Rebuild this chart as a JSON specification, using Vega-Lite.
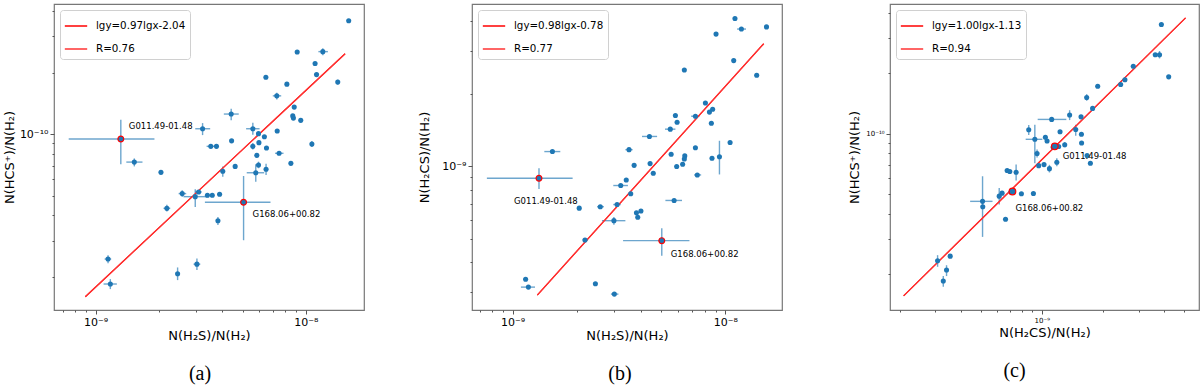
{
  "$schema": "https://vega.github.io/schema/vega-lite/v6.json",
  "padding": {"left": 2, "top": 3, "right": 0, "bottom": 0},
  "background": "white",
  "bounds": "flush",
  "spacing": 108,
  "resolve": {"scale": {"color": "independent"}, "legend": {"color": "independent"}},
  "config": {
    "font": "DejaVu Sans",
    "view": {"stroke": "#777777", "strokeWidth": 1.2},
    "axis": {"grid": false, "domain": false, "tickColor": "#555555", "tickWidth": 1, "labelColor": "#000000", "labelFont": "DejaVu Sans", "labelFontSize": 11, "labelPadding": 2, "labelFlush": false, "labelOverlap": false, "titleFont": "DejaVu Sans", "titleFontSize": 13, "titleFontWeight": "normal", "titleColor": "#000000"},
    "legend": {"orient": "top-left", "offset": 6, "symbolType": "stroke", "symbolSize": 500, "symbolStrokeWidth": 1.5, "labelFont": "DejaVu Sans", "labelFontSize": 10.3, "labelColor": "#000000", "strokeColor": "#d0d0d0", "fillColor": "#ffffff", "padding": 4, "cornerRadius": 3, "rowPadding": 5, "labelOffset": 8},
    "title": {"font": "Liberation Serif", "fontSize": 20, "fontWeight": "normal", "color": "#000000", "orient": "bottom", "frame": "group", "anchor": "middle"}
  },
  "datasets": {
    "a": [
      {"x": 1.60e-8, "y": 3.58e-10},
      {"x": 9.10e-9, "y": 2.52e-10},
      {"x": 1.205e-8, "y": 2.53e-10, "xlo": 1.148e-8, "xhi": 1.274e-8, "ylo": 2.427e-10, "yhi": 2.63e-10},
      {"x": 1.107e-8, "y": 2.213e-10},
      {"x": 1.125e-8, "y": 1.954e-10},
      {"x": 6.457e-9, "y": 1.897e-10},
      {"x": 8.128e-9, "y": 1.754e-10},
      {"x": 1.419e-8, "y": 1.795e-10, "ylo": 1.746e-10, "yhi": 1.841e-10},
      {"x": 7.278e-9, "y": 1.538e-10, "xlo": 6.966e-9, "xhi": 7.638e-9, "ylo": 1.476e-10, "yhi": 1.592e-10},
      {"x": 8.81e-9, "y": 1.355e-10},
      {"x": 4.416e-9, "y": 1.253e-10, "xlo": 4.074e-9, "xhi": 4.797e-9, "ylo": 1.169e-10, "yhi": 1.33e-10},
      {"x": 8.67e-9, "y": 1.227e-10},
      {"x": 8.73e-9, "y": 1.197e-10},
      {"x": 9.462e-9, "y": 1.167e-10},
      {"x": 5.598e-9, "y": 1.062e-10, "xlo": 5.2e-9, "xhi": 6.026e-9, "ylo": 9.93e-11, "yhi": 1.135e-10},
      {"x": 3.228e-9, "y": 1.062e-10, "xlo": 2.979e-9, "xhi": 3.508e-9, "ylo": 9.886e-11, "yhi": 1.132e-10},
      {"x": 7.311e-9, "y": 1.035e-10},
      {"x": 5.957e-9, "y": 1.005e-10},
      {"x": 1.318e-9, "y": 9.462e-11, "xlo": 7.447e-10, "xhi": 1.905e-9, "ylo": 7.112e-11, "yhi": 1.175e-10, "name": "G011.49-01.48"},
      {"x": 4.436e-9, "y": 9.268e-11},
      {"x": 6.353e-9, "y": 9.705e-11},
      {"x": 5.598e-9, "y": 8.71e-11, "ylo": 8.395e-11, "yhi": 9.036e-11},
      {"x": 3.532e-9, "y": 8.71e-11, "xlo": 3.373e-9, "xhi": 3.707e-9},
      {"x": 3.758e-9, "y": 8.71e-11},
      {"x": 5.984e-9, "y": 9.078e-11},
      {"x": 6.501e-9, "y": 8.551e-11},
      {"x": 1.069e-8, "y": 8.933e-11, "ylo": 8.65e-11, "yhi": 9.247e-11},
      {"x": 5.848e-9, "y": 7.87e-11},
      {"x": 7.464e-9, "y": 8.054e-11, "xlo": 7.145e-9, "xhi": 7.834e-9},
      {"x": 1.528e-9, "y": 7.295e-11, "xlo": 1.4e-9, "xhi": 1.671e-9, "ylo": 6.95e-11, "yhi": 7.603e-11},
      {"x": 5.957e-9, "y": 7.063e-11, "ylo": 6.808e-11, "yhi": 7.328e-11},
      {"x": 4.613e-9, "y": 6.95e-11},
      {"x": 8.492e-9, "y": 7.194e-11},
      {"x": 4.027e-9, "y": 6.577e-11, "ylo": 6.194e-11, "yhi": 6.934e-11},
      {"x": 6.471e-9, "y": 6.73e-11, "ylo": 6.31e-11, "yhi": 7.161e-11},
      {"x": 5.781e-9, "y": 6.471e-11, "xlo": 5.236e-9, "xhi": 6.339e-9, "ylo": 5.848e-11, "yhi": 7.112e-11},
      {"x": 2.046e-9, "y": 6.501e-11},
      {"x": 2.582e-9, "y": 5.117e-11, "xlo": 2.483e-9, "xhi": 2.698e-9, "ylo": 4.932e-11, "yhi": 5.309e-11},
      {"x": 3.09e-9, "y": 5.212e-11, "xlo": 2.979e-9, "xhi": 3.199e-9},
      {"x": 2.979e-9, "y": 4.943e-11, "xlo": 2.618e-9, "xhi": 3.443e-9, "ylo": 4.406e-11, "yhi": 5.37e-11},
      {"x": 3.404e-9, "y": 5.023e-11},
      {"x": 3.589e-9, "y": 5.023e-11},
      {"x": 3.89e-9, "y": 5.082e-11},
      {"x": 5.058e-9, "y": 4.645e-11, "xlo": 3.311e-9, "xhi": 6.792e-9, "ylo": 3.027e-11, "yhi": 6.237e-11, "name": "G168.06+00.82"},
      {"x": 2.183e-9, "y": 4.335e-11, "xlo": 2.104e-9, "xhi": 2.265e-9, "ylo": 4.178e-11, "yhi": 4.508e-11},
      {"x": 3.819e-9, "y": 3.767e-11, "ylo": 3.597e-11, "yhi": 3.936e-11},
      {"x": 1.146e-9, "y": 2.449e-11, "xlo": 1.104e-9, "xhi": 1.186e-9, "ylo": 2.339e-11, "yhi": 2.559e-11},
      {"x": 3.034e-9, "y": 2.312e-11, "xlo": 2.924e-9, "xhi": 3.148e-9, "ylo": 2.163e-11, "yhi": 2.466e-11},
      {"x": 2.455e-9, "y": 2.075e-11, "ylo": 1.932e-11, "yhi": 2.228e-11},
      {"x": 1.175e-9, "y": 1.849e-11, "xlo": 1.091e-9, "xhi": 1.262e-9, "ylo": 1.746e-11, "yhi": 1.954e-11}
    ],
    "b": [
      {"x": 1.109e-8, "y": 4.111e-9},
      {"x": 1.56e-8, "y": 3.793e-9},
      {"x": 1.189e-8, "y": 3.715e-9, "xlo": 1.135e-8, "xhi": 1.25e-8},
      {"x": 9.036e-9, "y": 3.54e-9},
      {"x": 1.094e-8, "y": 2.748e-9},
      {"x": 6.412e-9, "y": 2.512e-9},
      {"x": 1.403e-8, "y": 2.388e-9},
      {"x": 8.054e-9, "y": 1.832e-9},
      {"x": 8.414e-9, "y": 1.679e-9},
      {"x": 8.71e-9, "y": 1.726e-9},
      {"x": 5.821e-9, "y": 1.626e-9},
      {"x": 7.228e-9, "y": 1.614e-9, "xlo": 6.902e-9, "xhi": 7.551e-9},
      {"x": 5.929e-9, "y": 1.524e-9},
      {"x": 8.59e-9, "y": 1.51e-9},
      {"x": 5.508e-9, "y": 1.426e-9, "xlo": 5.2e-9, "xhi": 5.821e-9},
      {"x": 4.395e-9, "y": 1.33e-9, "xlo": 4.055e-9, "xhi": 4.775e-9},
      {"x": 1.052e-8, "y": 1.256e-9},
      {"x": 1.538e-9, "y": 1.151e-9, "xlo": 1.409e-9, "xhi": 1.675e-9},
      {"x": 3.524e-9, "y": 1.172e-9, "xlo": 3.388e-9, "xhi": 3.664e-9},
      {"x": 7.228e-9, "y": 1.194e-9},
      {"x": 5.559e-9, "y": 1.122e-9},
      {"x": 6.442e-9, "y": 1.104e-9},
      {"x": 6.412e-9, "y": 1.072e-9},
      {"x": 9.376e-9, "y": 1.096e-9, "ylo": 9.247e-10, "yhi": 1.276e-9},
      {"x": 8.65e-9, "y": 1.079e-9},
      {"x": 6.295e-9, "y": 1.019e-9},
      {"x": 3.724e-9, "y": 1.009e-9},
      {"x": 4.426e-9, "y": 1.026e-9},
      {"x": 5.902e-9, "y": 9.977e-10},
      {"x": 4.581e-9, "y": 9.354e-10},
      {"x": 7.379e-9, "y": 9.204e-10, "xlo": 7.129e-9, "xhi": 7.691e-9},
      {"x": 1.33e-9, "y": 8.913e-10, "xlo": 7.568e-10, "xhi": 1.914e-9, "ylo": 8.054e-10, "yhi": 9.817e-10, "name": "G011.49-01.48"},
      {"x": 3.42e-9, "y": 8.77e-10},
      {"x": 3.221e-9, "y": 8.318e-10, "xlo": 2.972e-9, "xhi": 3.483e-9},
      {"x": 3.589e-9, "y": 7.691e-10},
      {"x": 5.741e-9, "y": 7.211e-10, "xlo": 5.224e-9, "xhi": 6.252e-9},
      {"x": 2.056e-9, "y": 6.699e-10},
      {"x": 2.582e-9, "y": 6.792e-10, "xlo": 2.495e-9, "xhi": 2.685e-9},
      {"x": 3.097e-9, "y": 6.934e-10, "xlo": 2.972e-9, "xhi": 3.221e-9},
      {"x": 3.819e-9, "y": 6.412e-10},
      {"x": 4.009e-9, "y": 6.516e-10},
      {"x": 3.873e-9, "y": 6.138e-10},
      {"x": 2.992e-9, "y": 5.943e-10, "xlo": 2.63e-9, "xhi": 3.388e-9, "ylo": 5.715e-10, "yhi": 6.152e-10},
      {"x": 2.188e-9, "y": 4.943e-10, "xlo": 2.133e-9, "xhi": 2.254e-9},
      {"x": 5.023e-9, "y": 4.909e-10, "xlo": 3.304e-9, "xhi": 6.776e-9, "ylo": 4.246e-10, "yhi": 5.534e-10, "name": "G168.06+00.82"},
      {"x": 1.151e-9, "y": 3.396e-10, "xlo": 1.122e-9, "xhi": 1.18e-9},
      {"x": 1.186e-9, "y": 3.148e-10, "xlo": 1.094e-9, "xhi": 1.274e-9},
      {"x": 2.449e-9, "y": 3.251e-10},
      {"x": 3.006e-9, "y": 2.944e-10, "xlo": 2.897e-9, "xhi": 3.141e-9}
    ],
    "c": [
      {"x": 3.873e-9, "y": 3.499e-10},
      {"x": 3.614e-9, "y": 2.472e-10},
      {"x": 3.793e-9, "y": 2.472e-10, "ylo": 2.371e-10, "yhi": 2.582e-10},
      {"x": 2.818e-9, "y": 2.168e-10},
      {"x": 4.207e-9, "y": 1.919e-10},
      {"x": 2.564e-9, "y": 1.858e-10},
      {"x": 2.443e-9, "y": 1.758e-10},
      {"x": 1.884e-9, "y": 1.722e-10},
      {"x": 1.663e-9, "y": 1.514e-10, "ylo": 1.459e-10, "yhi": 1.574e-10},
      {"x": 1.778e-9, "y": 1.337e-10},
      {"x": 1.371e-9, "y": 1.239e-10, "ylo": 1.169e-10, "yhi": 1.309e-10},
      {"x": 1.56e-9, "y": 1.213e-10},
      {"x": 1.119e-9, "y": 1.178e-10, "xlo": 9.55e-10, "xhi": 1.321e-9},
      {"x": 1.469e-9, "y": 1.05e-10, "ylo": 9.772e-11, "yhi": 1.109e-10},
      {"x": 1.23e-9, "y": 1.023e-10},
      {"x": 8.63e-10, "y": 1.047e-10, "ylo": 9.84e-11, "yhi": 1.104e-10},
      {"x": 1.567e-9, "y": 9.931e-11},
      {"x": 1.042e-9, "y": 9.594e-11},
      {"x": 9.247e-10, "y": 9.376e-11, "xlo": 8.337e-10, "xhi": 1.007e-9, "ylo": 7.129e-11, "yhi": 1.109e-10},
      {"x": 1.062e-9, "y": 9.204e-11},
      {"x": 1.57e-9, "y": 8.995e-11},
      {"x": 1.297e-9, "y": 8.81e-11, "ylo": 8.551e-11, "yhi": 9.099e-11},
      {"x": 1.138e-9, "y": 8.551e-11},
      {"x": 1.211e-9, "y": 8.63e-11},
      {"x": 1.159e-9, "y": 8.65e-11, "name": "G011.49-01.48"},
      {"x": 9.484e-10, "y": 7.962e-11, "ylo": 7.603e-11, "yhi": 8.337e-11},
      {"x": 1.671e-9, "y": 7.78e-11},
      {"x": 1.734e-9, "y": 7.129e-11},
      {"x": 1.186e-9, "y": 7.211e-11, "ylo": 6.887e-11, "yhi": 7.551e-11},
      {"x": 1.026e-9, "y": 7.015e-11},
      {"x": 9.661e-10, "y": 6.934e-11},
      {"x": 1.091e-9, "y": 6.699e-11, "ylo": 6.412e-11, "yhi": 6.998e-11},
      {"x": 6.761e-10, "y": 6.561e-11},
      {"x": 6.966e-10, "y": 6.486e-11},
      {"x": 7.482e-10, "y": 6.427e-11, "ylo": 5.848e-11, "yhi": 7.015e-11},
      {"x": 7.943e-10, "y": 5.023e-11},
      {"x": 9.099e-10, "y": 5.035e-11},
      {"x": 6.383e-10, "y": 5.058e-11},
      {"x": 6.18e-10, "y": 4.887e-11, "ylo": 4.446e-11, "yhi": 5.358e-11},
      {"x": 7.063e-10, "y": 5.117e-11},
      {"x": 7.178e-10, "y": 5.152e-11, "name": "G168.06+00.82"},
      {"x": 5.117e-10, "y": 4.603e-11, "xlo": 4.446e-10, "xhi": 5.728e-10, "ylo": 3.062e-11, "yhi": 6.138e-11},
      {"x": 5.129e-10, "y": 4.325e-11},
      {"x": 6.637e-10, "y": 3.75e-11},
      {"x": 3.548e-10, "y": 2.455e-11},
      {"x": 3.076e-10, "y": 2.328e-11, "ylo": 2.173e-11, "yhi": 2.483e-11},
      {"x": 3.404e-10, "y": 2.094e-11, "ylo": 1.954e-11, "yhi": 2.213e-11},
      {"x": 3.281e-10, "y": 1.845e-11, "ylo": 1.73e-11, "yhi": 1.954e-11}
    ],
    "fitA": [
      {"x": 8.933e-10, "y": 1.603e-11, "label": "lgy=0.97lgx-2.04"},
      {"x": 1.538e-8, "y": 2.472e-10, "label": "lgy=0.97lgx-2.04"},
      {"x": 8.933e-10, "y": 1.603e-11, "label": "R=0.76"},
      {"x": 1.538e-8, "y": 2.472e-10, "label": "R=0.76"}
    ],
    "fitB": [
      {"x": 1.306e-9, "y": 2.917e-10, "label": "lgy=0.98lgx-0.78"},
      {"x": 1.514e-8, "y": 3.228e-9, "label": "lgy=0.98lgx-0.78"},
      {"x": 1.306e-9, "y": 2.917e-10, "label": "R=0.77"},
      {"x": 1.514e-8, "y": 3.228e-9, "label": "R=0.77"}
    ],
    "fitC": [
      {"x": 2.094e-10, "y": 1.556e-11, "label": "lgy=1.00lgx-1.13"},
      {"x": 5.093e-9, "y": 3.776e-10, "label": "lgy=1.00lgx-1.13"},
      {"x": 2.094e-10, "y": 1.556e-11, "label": "R=0.94"},
      {"x": 5.093e-9, "y": 3.776e-10, "label": "R=0.94"}
    ]
  },
  "hconcat": [
    {
      "width": 310, "height": 306,
      "title": {"text": "(a)", "offset": 22, "dx": -9},
      "layer": [
        {
          "data": {"name": "a"},
          "transform": [{"filter": "isValid(datum.xlo)"}],
          "mark": {"type": "rule", "color": "#1f77b4", "opacity": 0.65, "strokeWidth": 1.4},
          "encoding": {
            "x": {"field": "xlo", "type": "quantitative", "scale": {"type": "log", "domain": [6.339e-10, 1.892e-8], "nice": false},
              "axis": {"title": "N(H₂S)/N(H₂)", "titlePadding": 2, "values": [7e-10, 8e-10, 9e-10, 1e-9, 2e-9, 3e-9, 4e-9, 5e-9, 6e-9, 7e-9, 8e-9, 9e-9, 1e-8],
                "labelExpr": "abs(log(datum.value)/LN10 - round(log(datum.value)/LN10)) < 0.01 ? (round(log(datum.value)/LN10) == -9 ? '10⁻⁹' : '10⁻⁸') : ''",
                "tickSize": {"condition": {"test": "abs(log(datum.value)/LN10 - round(log(datum.value)/LN10)) < 0.01", "value": 4}, "value": 2}}},
            "x2": {"field": "xhi"},
            "y": {"field": "y", "type": "quantitative", "scale": {"type": "log", "domain": [1.38e-11, 4.325e-10], "nice": false},
              "axis": {"title": "N(HCS⁺)/N(H₂)", "titlePadding": 3, "values": [2e-11, 3e-11, 4e-11, 5e-11, 6e-11, 7e-11, 8e-11, 9e-11, 1e-10, 2e-10, 3e-10, 4e-10],
                "labelExpr": "abs(log(datum.value)/LN10 - round(log(datum.value)/LN10)) < 0.01 ? '10⁻¹⁰' : ''",
                "tickSize": {"condition": {"test": "abs(log(datum.value)/LN10 - round(log(datum.value)/LN10)) < 0.01", "value": 4}, "value": 2}}}
          }
        },
        {
          "data": {"name": "a"},
          "transform": [{"filter": "isValid(datum.ylo)"}],
          "mark": {"type": "rule", "color": "#1f77b4", "opacity": 0.65, "strokeWidth": 1.4},
          "encoding": {
            "x": {"field": "x", "type": "quantitative", "scale": {"type": "log", "domain": [6.339e-10, 1.892e-8], "nice": false}},
            "y": {"field": "ylo", "type": "quantitative", "scale": {"type": "log", "domain": [1.38e-11, 4.325e-10], "nice": false}},
            "y2": {"field": "yhi"}
          }
        },
        {
          "data": {"name": "fitA"},
          "mark": {"type": "line", "strokeWidth": 1.2},
          "encoding": {
            "x": {"field": "x", "type": "quantitative", "scale": {"type": "log", "domain": [6.339e-10, 1.892e-8], "nice": false}},
            "y": {"field": "y", "type": "quantitative", "scale": {"type": "log", "domain": [1.38e-11, 4.325e-10], "nice": false}},
            "color": {"field": "label", "type": "nominal", "scale": {"domain": ["lgy=0.97lgx-2.04", "R=0.76"], "range": ["#ff0000", "#ff3333"]}, "legend": {"title": null}}
          }
        },
        {
          "data": {"name": "a"},
          "mark": {"type": "circle", "opacity": 1},
          "encoding": {
            "x": {"field": "x", "type": "quantitative", "scale": {"type": "log", "domain": [6.339e-10, 1.892e-8], "nice": false}},
            "y": {"field": "y", "type": "quantitative", "scale": {"type": "log", "domain": [1.38e-11, 4.325e-10], "nice": false}},
            "size": {"condition": {"test": "isValid(datum.name)", "value": 34}, "value": 26},
            "fill": {"value": "#1f77b4"},
            "stroke": {"condition": {"test": "isValid(datum.name)", "value": "#ff0000"}, "value": "#1f77b4"},
            "strokeWidth": {"condition": {"test": "isValid(datum.name)", "value": 1.2}, "value": 0}
          }
        },
        {
          "data": {"name": "a"},
          "transform": [{"filter": "datum.name === 'G011.49-01.48'"}],
          "mark": {"type": "text", "align": "left", "baseline": "middle", "fontSize": 8.5, "font": "DejaVu Sans", "color": "#000000", "dx": 8, "dy": -13},
          "encoding": {
            "x": {"field": "x", "type": "quantitative", "scale": {"type": "log", "domain": [6.339e-10, 1.892e-8], "nice": false}},
            "y": {"field": "y", "type": "quantitative", "scale": {"type": "log", "domain": [1.38e-11, 4.325e-10], "nice": false}},
            "text": {"field": "name"}
          }
        },
        {
          "data": {"name": "a"},
          "transform": [{"filter": "datum.name === 'G168.06+00.82'"}],
          "mark": {"type": "text", "align": "left", "baseline": "middle", "fontSize": 8.5, "font": "DejaVu Sans", "color": "#000000", "dx": 9, "dy": 12},
          "encoding": {
            "x": {"field": "x", "type": "quantitative", "scale": {"type": "log", "domain": [6.339e-10, 1.892e-8], "nice": false}},
            "y": {"field": "y", "type": "quantitative", "scale": {"type": "log", "domain": [1.38e-11, 4.325e-10], "nice": false}},
            "text": {"field": "name"}
          }
        }
      ]
    },
    {
      "width": 310, "height": 306,
      "title": {"text": "(b)", "offset": 22, "dx": -7},
      "layer": [
        {
          "data": {"name": "b"},
          "transform": [{"filter": "isValid(datum.xlo)"}],
          "mark": {"type": "rule", "color": "#1f77b4", "opacity": 0.65, "strokeWidth": 1.4},
          "encoding": {
            "x": {"field": "xlo", "type": "quantitative", "scale": {"type": "log", "domain": [6.442e-10, 1.845e-8], "nice": false},
              "axis": {"title": "N(H₂S)/N(H₂)", "titlePadding": 2, "values": [7e-10, 8e-10, 9e-10, 1e-9, 2e-9, 3e-9, 4e-9, 5e-9, 6e-9, 7e-9, 8e-9, 9e-9, 1e-8],
                "labelExpr": "abs(log(datum.value)/LN10 - round(log(datum.value)/LN10)) < 0.01 ? (round(log(datum.value)/LN10) == -9 ? '10⁻⁹' : '10⁻⁸') : ''",
                "tickSize": {"condition": {"test": "abs(log(datum.value)/LN10 - round(log(datum.value)/LN10)) < 0.01", "value": 4}, "value": 2}}},
            "x2": {"field": "xhi"},
            "y": {"field": "y", "type": "quantitative", "scale": {"type": "log", "domain": [2.529e-10, 4.721e-9], "nice": false},
              "axis": {"title": "N(H₂CS)/N(H₂)", "titlePadding": 10, "values": [3e-10, 4e-10, 5e-10, 6e-10, 7e-10, 8e-10, 9e-10, 1e-9, 2e-9, 3e-9, 4e-9],
                "labelExpr": "abs(log(datum.value)/LN10 - round(log(datum.value)/LN10)) < 0.01 ? '10⁻⁹' : ''",
                "tickSize": {"condition": {"test": "abs(log(datum.value)/LN10 - round(log(datum.value)/LN10)) < 0.01", "value": 4}, "value": 2}}}
          }
        },
        {
          "data": {"name": "b"},
          "transform": [{"filter": "isValid(datum.ylo)"}],
          "mark": {"type": "rule", "color": "#1f77b4", "opacity": 0.65, "strokeWidth": 1.4},
          "encoding": {
            "x": {"field": "x", "type": "quantitative", "scale": {"type": "log", "domain": [6.442e-10, 1.845e-8], "nice": false}},
            "y": {"field": "ylo", "type": "quantitative", "scale": {"type": "log", "domain": [2.529e-10, 4.721e-9], "nice": false}},
            "y2": {"field": "yhi"}
          }
        },
        {
          "data": {"name": "fitB"},
          "mark": {"type": "line", "strokeWidth": 1.2},
          "encoding": {
            "x": {"field": "x", "type": "quantitative", "scale": {"type": "log", "domain": [6.442e-10, 1.845e-8], "nice": false}},
            "y": {"field": "y", "type": "quantitative", "scale": {"type": "log", "domain": [2.529e-10, 4.721e-9], "nice": false}},
            "color": {"field": "label", "type": "nominal", "scale": {"domain": ["lgy=0.98lgx-0.78", "R=0.77"], "range": ["#ff0000", "#ff3333"]}, "legend": {"title": null}}
          }
        },
        {
          "data": {"name": "b"},
          "mark": {"type": "circle", "opacity": 1},
          "encoding": {
            "x": {"field": "x", "type": "quantitative", "scale": {"type": "log", "domain": [6.442e-10, 1.845e-8], "nice": false}},
            "y": {"field": "y", "type": "quantitative", "scale": {"type": "log", "domain": [2.529e-10, 4.721e-9], "nice": false}},
            "size": {"condition": {"test": "isValid(datum.name)", "value": 34}, "value": 26},
            "fill": {"value": "#1f77b4"},
            "stroke": {"condition": {"test": "isValid(datum.name)", "value": "#ff0000"}, "value": "#1f77b4"},
            "strokeWidth": {"condition": {"test": "isValid(datum.name)", "value": 1.2}, "value": 0}
          }
        },
        {
          "data": {"name": "b"},
          "transform": [{"filter": "datum.name === 'G011.49-01.48'"}],
          "mark": {"type": "text", "align": "left", "baseline": "middle", "fontSize": 8.5, "font": "DejaVu Sans", "color": "#000000", "dx": -25, "dy": 23},
          "encoding": {
            "x": {"field": "x", "type": "quantitative", "scale": {"type": "log", "domain": [6.442e-10, 1.845e-8], "nice": false}},
            "y": {"field": "y", "type": "quantitative", "scale": {"type": "log", "domain": [2.529e-10, 4.721e-9], "nice": false}},
            "text": {"field": "name"}
          }
        },
        {
          "data": {"name": "b"},
          "transform": [{"filter": "datum.name === 'G168.06+00.82'"}],
          "mark": {"type": "text", "align": "left", "baseline": "middle", "fontSize": 8.5, "font": "DejaVu Sans", "color": "#000000", "dx": 9, "dy": 13},
          "encoding": {
            "x": {"field": "x", "type": "quantitative", "scale": {"type": "log", "domain": [6.442e-10, 1.845e-8], "nice": false}},
            "y": {"field": "y", "type": "quantitative", "scale": {"type": "log", "domain": [2.529e-10, 4.721e-9], "nice": false}},
            "text": {"field": "name"}
          }
        }
      ]
    },
    {
      "width": 309, "height": 306,
      "title": {"text": "(c)", "offset": 22, "dx": -30},
      "layer": [
        {
          "data": {"name": "c"},
          "transform": [{"filter": "isValid(datum.xlo)"}],
          "mark": {"type": "rule", "color": "#1f77b4", "opacity": 0.65, "strokeWidth": 1.4},
          "encoding": {
            "x": {"field": "xlo", "type": "quantitative", "scale": {"type": "log", "domain": [1.795e-10, 5.929e-9], "nice": false},
              "axis": {"title": "N(H₂CS)/N(H₂)", "titlePadding": 3, "labelFontSize": 7, "values": [2e-10, 3e-10, 4e-10, 5e-10, 6e-10, 7e-10, 8e-10, 9e-10, 1e-9, 2e-9, 3e-9, 4e-9, 5e-9],
                "labelExpr": "abs(log(datum.value)/LN10 - round(log(datum.value)/LN10)) < 0.01 ? '10⁻⁹' : ''",
                "tickSize": {"condition": {"test": "abs(log(datum.value)/LN10 - round(log(datum.value)/LN10)) < 0.01", "value": 4}, "value": 2}}},
            "x2": {"field": "xhi"},
            "y": {"field": "y", "type": "quantitative", "scale": {"type": "log", "domain": [1.324e-11, 4.426e-10], "nice": false},
              "axis": {"title": "N(HCS⁺)/N(H₂)", "titlePadding": 4, "labelFontSize": 7, "values": [2e-11, 3e-11, 4e-11, 5e-11, 6e-11, 7e-11, 8e-11, 9e-11, 1e-10, 2e-10, 3e-10, 4e-10],
                "labelExpr": "abs(log(datum.value)/LN10 - round(log(datum.value)/LN10)) < 0.01 ? '10⁻¹⁰' : ''",
                "tickSize": {"condition": {"test": "abs(log(datum.value)/LN10 - round(log(datum.value)/LN10)) < 0.01", "value": 4}, "value": 2}}}
          }
        },
        {
          "data": {"name": "c"},
          "transform": [{"filter": "isValid(datum.ylo)"}],
          "mark": {"type": "rule", "color": "#1f77b4", "opacity": 0.65, "strokeWidth": 1.4},
          "encoding": {
            "x": {"field": "x", "type": "quantitative", "scale": {"type": "log", "domain": [1.795e-10, 5.929e-9], "nice": false}},
            "y": {"field": "ylo", "type": "quantitative", "scale": {"type": "log", "domain": [1.324e-11, 4.426e-10], "nice": false}},
            "y2": {"field": "yhi"}
          }
        },
        {
          "data": {"name": "fitC"},
          "mark": {"type": "line", "strokeWidth": 1.2},
          "encoding": {
            "x": {"field": "x", "type": "quantitative", "scale": {"type": "log", "domain": [1.795e-10, 5.929e-9], "nice": false}},
            "y": {"field": "y", "type": "quantitative", "scale": {"type": "log", "domain": [1.324e-11, 4.426e-10], "nice": false}},
            "color": {"field": "label", "type": "nominal", "scale": {"domain": ["lgy=1.00lgx-1.13", "R=0.94"], "range": ["#ff0000", "#ff3333"]}, "legend": {"title": null}}
          }
        },
        {
          "data": {"name": "c"},
          "mark": {"type": "circle", "opacity": 1},
          "encoding": {
            "x": {"field": "x", "type": "quantitative", "scale": {"type": "log", "domain": [1.795e-10, 5.929e-9], "nice": false}},
            "y": {"field": "y", "type": "quantitative", "scale": {"type": "log", "domain": [1.324e-11, 4.426e-10], "nice": false}},
            "size": {"condition": {"test": "isValid(datum.name)", "value": 44}, "value": 26},
            "fill": {"value": "#1f77b4"},
            "stroke": {"condition": {"test": "isValid(datum.name)", "value": "#ff0000"}, "value": "#1f77b4"},
            "strokeWidth": {"condition": {"test": "isValid(datum.name)", "value": 1.2}, "value": 0}
          }
        },
        {
          "data": {"name": "c"},
          "transform": [{"filter": "datum.name === 'G011.49-01.48'"}],
          "mark": {"type": "text", "align": "left", "baseline": "middle", "fontSize": 8.5, "font": "DejaVu Sans", "color": "#000000", "dx": 8, "dy": 10},
          "encoding": {
            "x": {"field": "x", "type": "quantitative", "scale": {"type": "log", "domain": [1.795e-10, 5.929e-9], "nice": false}},
            "y": {"field": "y", "type": "quantitative", "scale": {"type": "log", "domain": [1.324e-11, 4.426e-10], "nice": false}},
            "text": {"field": "name"}
          }
        },
        {
          "data": {"name": "c"},
          "transform": [{"filter": "datum.name === 'G168.06+00.82'"}],
          "mark": {"type": "text", "align": "left", "baseline": "middle", "fontSize": 8.5, "font": "DejaVu Sans", "color": "#000000", "dx": 3, "dy": 16},
          "encoding": {
            "x": {"field": "x", "type": "quantitative", "scale": {"type": "log", "domain": [1.795e-10, 5.929e-9], "nice": false}},
            "y": {"field": "y", "type": "quantitative", "scale": {"type": "log", "domain": [1.324e-11, 4.426e-10], "nice": false}},
            "text": {"field": "name"}
          }
        }
      ]
    }
  ]
}
